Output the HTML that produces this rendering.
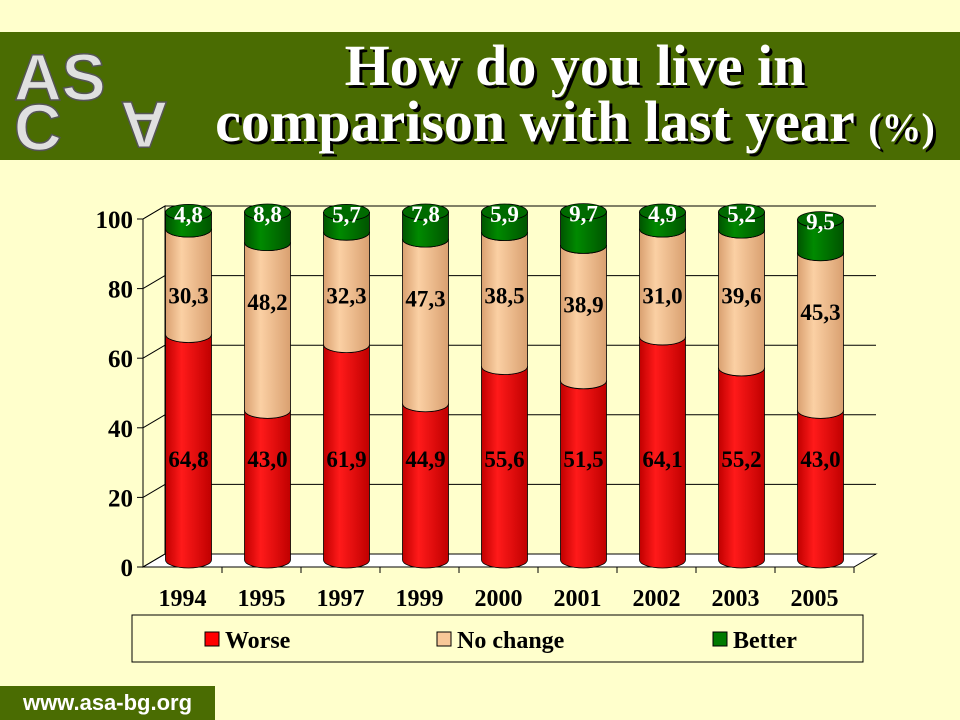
<!DOCTYPE html>
<html><head><meta charset="utf-8"><style>
body{margin:0;width:960px;height:720px;overflow:hidden;background:#ffffcc;font-family:"Liberation Serif",serif;}
#band{position:absolute;left:0;top:32px;width:960px;height:128px;background:#4a6c02;}
#title{position:absolute;left:190px;top:38px;width:770px;text-align:center;color:#fff;font-weight:bold;font-size:58px;line-height:56px;text-shadow:3px 3px 0 #000;white-space:nowrap;}
#footer{position:absolute;left:0;top:686px;width:215px;height:34px;background:#4a6c02;color:#fff;font:bold 22px "Liberation Sans",sans-serif;line-height:34px;text-align:center;}
</style></head><body>
<div id="band"></div>
<svg style="position:absolute;left:0;top:32px" width="190" height="128">
<text x="14" y="68" font-family="Liberation Sans,sans-serif" font-size="66" font-weight="bold" fill="#e0e0e0" stroke="#555" stroke-width="1.5">AS</text>
<text x="14" y="118" font-family="Liberation Sans,sans-serif" font-size="66" font-weight="bold" fill="#e0e0e0" stroke="#555" stroke-width="1.5">C</text>
<text x="0" y="0" transform="translate(168,70) rotate(180)" font-family="Liberation Sans,sans-serif" font-size="66" font-weight="bold" fill="#e0e0e0" stroke="#555" stroke-width="1.5">A</text>
</svg>
<div id="title">How do you live in<br>comparison with last year <span style="font-size:40px">(%)</span></div>
<svg id="chart" style="position:absolute;left:0;top:0" width="960" height="720"></svg>
<div id="footer">www.asa-bg.org</div>
<script>
const categories=["1994","1995","1997","1999","2000","2001","2002","2003","2005"];
const worse=[64.8,43.0,61.9,44.9,55.6,51.5,64.1,55.2,43.0];
const nochange=[30.3,48.2,32.3,47.3,38.5,38.9,31.0,39.6,45.3];
const better=[4.8,8.8,5.7,7.8,5.9,9.7,4.9,5.2,9.5];
const ticks=[0,20,40,60,80,100];
const NS="http://www.w3.org/2000/svg";
const svg=document.getElementById('chart');
const X0=143,Y0=567,H=348,CW=79,DX=22,DY=13;
const y=v=>Y0-v/100*H;
const fmt=v=>v.toFixed(1).replace('.',',');
function mk(t,a,p){const e=document.createElementNS(NS,t);for(const k in a)e.setAttribute(k,a[k]);(p||svg).appendChild(e);return e;}
const defs=mk('defs',{});
function grad(id,c1,c2){const g=mk('linearGradient',{id:id,x1:0,x2:1,y1:0,y2:0},defs);
mk('stop',{offset:'0',"stop-color":c2},g);mk('stop',{offset:'0.35',"stop-color":c1},g);mk('stop',{offset:'1',"stop-color":c2},g);}
grad('gr','#ff1a1a','#c00000');grad('gt','#fbd0a4','#d9a070');grad('gg','#008a00','#005400');
const right=X0+CW*categories.length;
mk('polygon',{points:`${X0},${Y0} ${X0+DX},${Y0-DY} ${X0+DX},${y(100)-DY} ${X0},${y(100)}`,fill:'none',stroke:'#000'});
const floor=mk('polygon',{points:`${X0},${Y0} ${right},${Y0} ${right+DX},${Y0-DY} ${X0+DX},${Y0-DY}`,fill:'#fff',stroke:'#000'});

ticks.forEach(t=>{
 const g=mk('line',{x1:X0+DX,x2:right+DX,y1:y(t)-DY,y2:y(t)-DY,stroke:'#000'});
 
 mk('line',{x1:X0,x2:X0+DX,y1:y(t),y2:y(t)-DY,stroke:'#000'});
 mk('line',{x1:X0-6,x2:X0,y1:y(t),y2:y(t),stroke:'#000'});
 const l=mk('text',{x:X0-10,y:y(t)+9,"text-anchor":'end',"font-size":25,"font-weight":'bold'});l.textContent=t;
 
});
mk('line',{x1:X0,x2:X0,y1:y(0),y2:y(100),stroke:'#000'});
mk('line',{x1:X0,x2:right,y1:Y0,y2:Y0,stroke:'#000'});
const R=23,E=8,OY=-7;
function seg(cx,a,b,fill,top){
 const ya=y(a)+OY,yb=y(b)+OY;
 mk('path',{d:`M${cx-R},${yb} L${cx-R},${ya} A${R},${E} 0 0 0 ${cx+R},${ya} L${cx+R},${yb} Z`,fill:fill,stroke:'#000',"stroke-width":0.8});
 mk('path',{d:`M${cx-R},${yb} A${R},${E} 0 0 0 ${cx+R},${yb}`,fill:'none',stroke:'#000',"stroke-width":0.8});
 if(top) mk('ellipse',{cx:cx,cy:yb,rx:R,ry:E,fill:'#006a00',stroke:'#000',"stroke-width":0.8});
}
categories.forEach((c,i)=>{
 const cx=X0+CW*i+CW/2+6;
 mk('line',{x1:X0+CW*(i+1),x2:X0+CW*(i+1),y1:Y0,y2:Y0+6,stroke:'#000'});
 const w=worse[i],n=nochange[i],b=better[i];
 seg(cx,0,w,'url(#gr)');seg(cx,w,w+n,'url(#gt)');seg(cx,w+n,w+n+b,'url(#gg)',true);
 const lab=(txt,yy,col,nm)=>{const t=mk('text',{x:cx,y:yy,"text-anchor":'middle',"font-size":23,"font-weight":'bold',fill:col});t.textContent=txt;
  };
 lab(fmt(w),y(Math.min(w-10,31))+8,'#000','worse-label');
 lab(fmt(n),y(Math.min(w+n-15,78))+8,'#000','nochange-label');
 lab(fmt(b),y(w+n+b)+OY+10,'#fff','better-label');
 const xl=mk('text',{x:X0+CW*i+CW/2,y:606,"text-anchor":'middle',"font-size":24,"font-weight":'bold'});xl.textContent=c;
 
});
const lg=mk('g',{});
mk('rect',{x:132,y:615,width:731,height:47,fill:'#ffffcc',stroke:'#000'},lg);
[["Worse",'#ff0000',205],["No change",'#f8c898',437],["Better",'#007a00',713]].forEach(e=>{
 const it=mk('g',{},lg);
 mk('rect',{x:e[2],y:632,width:14,height:14,fill:e[1],stroke:'#000'},it);
 const t=mk('text',{x:e[2]+20,y:648,"font-size":24,"font-weight":'bold'},it);t.textContent=e[0];
});
</script>
</body></html>
